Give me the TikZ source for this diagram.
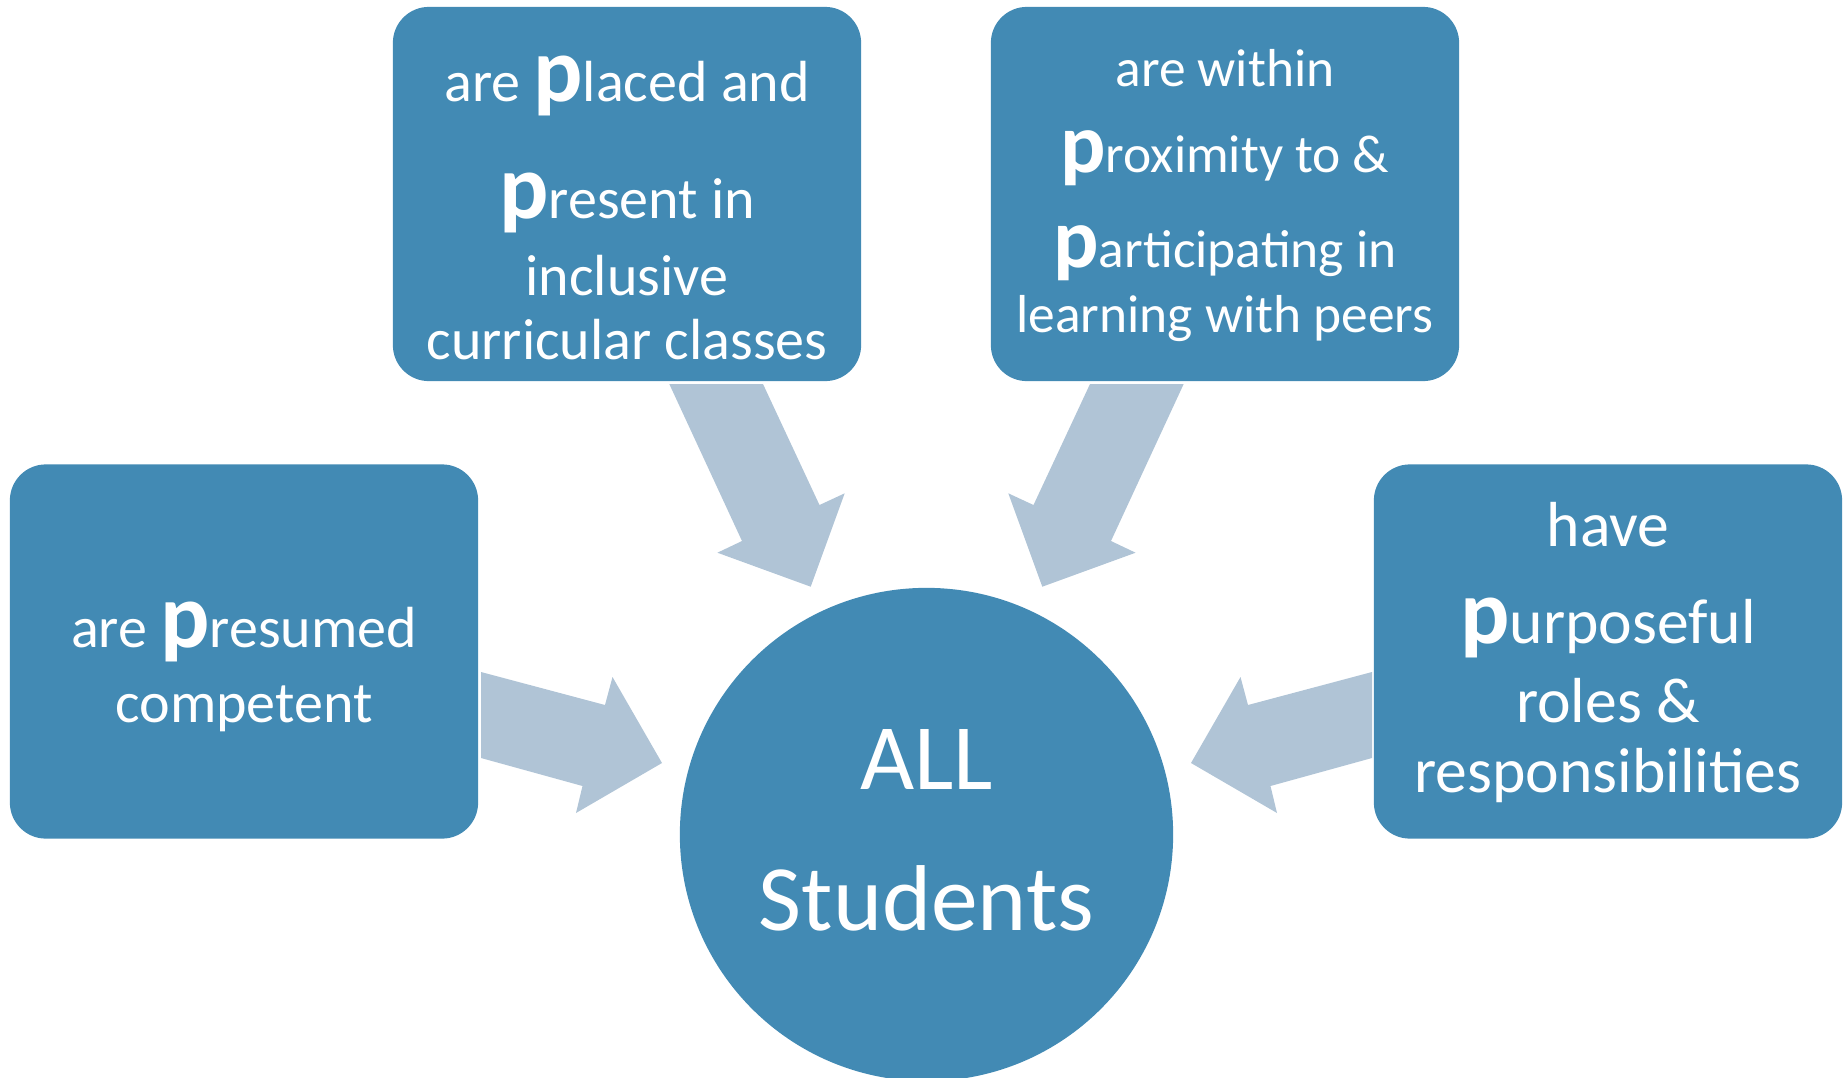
\documentclass[tikz,border=0pt]{standalone}
\usepackage{fontspec}
\setmainfont{Carlito}
\definecolor{boxblue}{RGB}{66,138,180}
\definecolor{arrowgrey}{RGB}{176,196,214}
\lineskiplimit=-\maxdimen
\newcommand{\bigp}[2][26.2]{{\fontsize{#1}{0}\selectfont\bfseries #2}}
\tikzset{
  pbox/.style={rectangle, rounded corners=0.36cm, fill=boxblue, text=white, minimum width=4.68cm, minimum height=3.74cm, inner sep=0pt, align=center, font=\fontsize{16.5}{0}\selectfont},
  hub/.style={circle, fill=boxblue, text=white, minimum size=4.93cm, inner sep=0pt, align=center, font=\fontsize{26.6}{0}\selectfont},
  bigarrow/.style={fill=arrowgrey}
}

\begin{document}
\begin{tikzpicture}[x=0.01cm, y=-0.01cm]
	\useasboundingbox (0,0) rectangle (1847,1078);
	% block arrows, left half and its mirror image
	\foreach \s in {1,-1} {
	\begin{scope}[shift={(926.5,0)}, xscale=\s]
		\fill[bigarrow] (-445.5,672) -- (-321.5,705) -- (-314,677) -- (-264.5,763) -- (-350.5,813) -- (-344,786) -- (-445.5,758) -- cycle;
		\fill[bigarrow] (-257.2,384) -- (-163.5,384) -- (-107,505) -- (-81.8,493.3) -- (-115.8,586.7) -- (-209.1,552.7) -- (-184.5,541) -- cycle;
	\end{scope}
	}
	% the four p's
	\node[pbox] (placed) at (627,194) {\rule{0pt}{0.88cm}are \bigp{p}laced and\\[1.16cm] \bigp{p}resent in\\[0.77cm] inclusive\\[0.64cm] curricular classes\rule[-0.15cm]{0pt}{0.15cm}};
	\node[pbox, font=\fontsize{15.2}{0}\selectfont] (proximity) at (1225,194) {\rule{0pt}{0.61cm}are within\\[0.86cm] \bigp[24.1]{p}roximity to \&\\[0.94cm] \bigp[24.1]{p}articipating in\\[0.65cm] learning with peers\rule[-0.30cm]{0pt}{0.30cm}};
	\node[pbox] (presumed) at (244,651.5) {\rule{0pt}{0.86cm}are \bigp{p}resumed\\[0.75cm] competent\rule[-0.20cm]{0pt}{0.20cm}};
	\node[pbox, font=\fontsize{18.1}{0}\selectfont] (purposeful) at (1608,651.5) {\rule{0pt}{0.61cm}have\\[0.96cm] \bigp{p}urposeful\\[0.79cm] roles \&\\[0.70cm] responsibilities\rule[-0.25cm]{0pt}{0.25cm}};
	% centre
	\node[hub] (all) at (926.5,834.5) {\rule{0pt}{0.80cm}ALL\\[1.40cm] Students\rule[-0.29cm]{0pt}{0.29cm}};
\end{tikzpicture}
\end{document}
